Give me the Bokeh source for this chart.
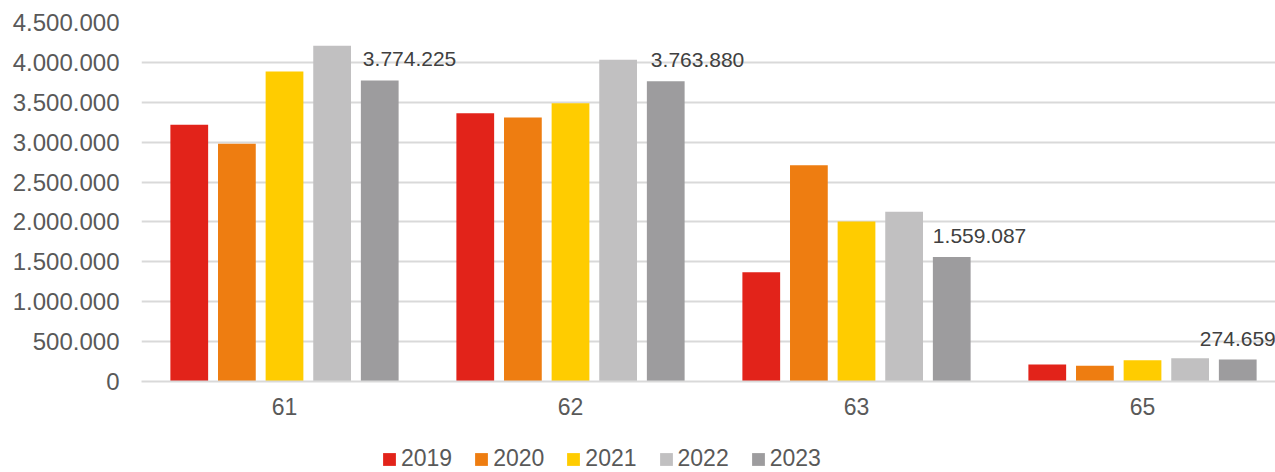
from bokeh.plotting import figure
from bokeh.models import ColumnDataSource, Range1d, FixedTicker, Legend, LegendItem
from bokeh.layouts import column
from bokeh.core.properties import value
from bokeh.embed import file_html
from bokeh.resources import INLINE

categories = ["61", "62", "63", "65"]
years = ["2019", "2020", "2021", "2022", "2023"]
v2019 = [3217000, 3363000, 1370000, 213000]
v2020 = [2980000, 3309000, 2711000, 197000]
v2021 = [3886000, 3489000, 2006000, 267000]
v2022 = [4208000, 4032000, 2127000, 292000]
v2023 = [3774225, 3763880, 1559087, 274659]
y_ticks = [0, 500000, 1000000, 1500000, 2000000, 2500000, 3000000, 3500000, 4000000, 4500000]

series = [v2019, v2020, v2021, v2022, v2023]
colors = ["#E2231A", "#EE7D11", "#FFCC00", "#C1C0C1", "#9D9C9E"]
FONT = "Liberation Sans"

def fmt(v):
    return f"{v:,}".replace(",", ".")

p = figure(width=1275, height=426, output_backend="svg", toolbar_location=None,
           x_range=Range1d(-0.5, 3.465), y_range=Range1d(0, 4500000),
           min_border_left=141, min_border_right=0, min_border_top=22, min_border_bottom=45)
p.outline_line_color = None
p.background_fill_color = "white"
p.border_fill_color = "white"

# legend strip (its own small figure below the chart); its x range keeps the key
# renderers out of view (past the right edge) so only the legend shows
p2 = figure(width=1275, height=46, output_backend="svg", toolbar_location=None,
            x_range=Range1d(-101, -100), y_range=Range1d(0, 4500000),
            x_axis_location=None, y_axis_location=None,
            min_border_left=141, min_border_right=0, min_border_top=0, min_border_bottom=0)
p2.outline_line_color = None
p2.xgrid.grid_line_color = None
p2.ygrid.grid_line_color = None

step = 0.1665
bw = 0.132
xs = list(range(len(categories)))
keys = []
for k, (vals, col) in enumerate(zip(series, colors)):
    src = ColumnDataSource(dict(x=[x + (k - 2) * step for x in xs], top=vals))
    p.vbar(x="x", top="top", width=bw, bottom=0, source=src,
           fill_color=col, line_color=None)
    keys.append(p2.vbar(x="x", top="top", width=bw, bottom=0, source=src,
                        fill_color=col, line_color=None))

# data labels for 2023
label_dx = [2, 4, 0, -19]
lsrc = ColumnDataSource(dict(x=[x + 2 * step - bw / 2 for x in xs], y=v2023,
                             t=[fmt(v) for v in v2023], dx=label_dx))
p.text(x="x", y="y", text="t", source=lsrc, x_offset="dx", y_offset=-21,
       text_align="left", text_baseline="middle", text_color="#404040",
       text_font=value(FONT), text_font_size="21px")

# axes
p.yaxis.ticker = FixedTicker(ticks=y_ticks)
p.yaxis.major_label_overrides = {t: fmt(t) for t in y_ticks}
p.yaxis.axis_line_color = None
p.yaxis.major_tick_line_color = None
p.yaxis.minor_tick_line_color = None
p.yaxis.major_tick_out = 0
p.yaxis.major_tick_in = 0
p.yaxis.major_label_text_font = FONT
p.yaxis.major_label_text_font_size = "24px"
p.yaxis.major_label_text_color = "#595959"
p.yaxis.major_label_standoff = 22

p.xaxis.ticker = FixedTicker(ticks=xs)
p.xaxis.major_label_overrides = {i: c for i, c in zip(xs, categories)}
p.xaxis.axis_line_color = "#D9D9D9"
p.xaxis.axis_line_width = 2
p.xaxis.major_tick_line_color = None
p.xaxis.minor_tick_line_color = None
p.xaxis.major_tick_out = 0
p.xaxis.major_tick_in = 0
p.xaxis.major_label_text_font = FONT
p.xaxis.major_label_text_font_size = "23px"
p.xaxis.major_label_text_color = "#595959"
p.xaxis.major_label_standoff = 16

p.xgrid.grid_line_color = None
p.ygrid.grid_line_color = "#D9D9D9"
p.ygrid.grid_line_width = 2

legend = Legend(items=[LegendItem(label=y, renderers=[r]) for y, r in zip(years, keys)],
                orientation="horizontal", location=(240, 0),
                glyph_width=16, glyph_height=16, label_standoff=4, spacing=21,
                padding=0, margin=0, border_line_color=None, background_fill_alpha=0,
                label_text_font=FONT, label_text_font_size="23px",
                label_text_color="#595959", label_height=18)
p2.add_layout(legend, "center")

open("out.html", "w").write(file_html(column(p, p2, spacing=0), INLINE))
